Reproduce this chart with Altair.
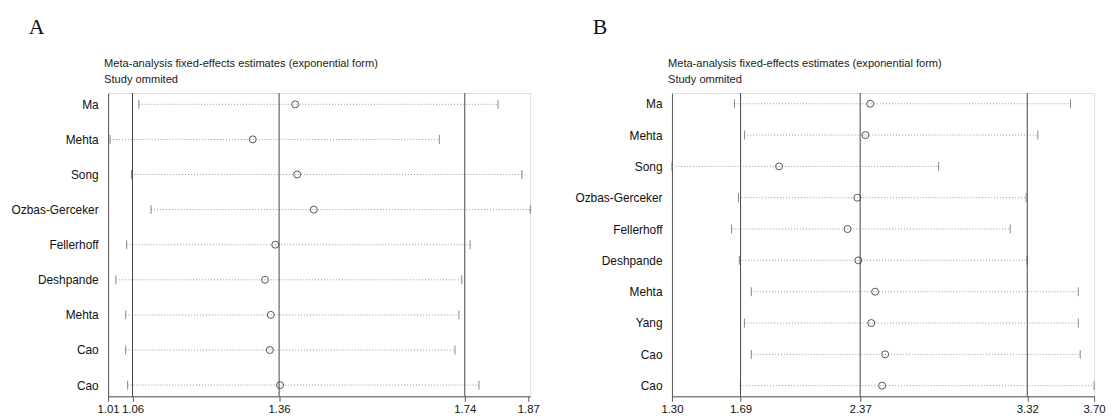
import altair as alt
import pandas as pd

# ---------------- Panel A data ----------------
studies_a = ["Ma", "Mehta", "Song", "Ozbas-Gerceker", "Fellerhoff",
             "Deshpande", "Mehta", "Cao", "Cao"]
lo_a = [1.073, 1.014, 1.058, 1.098, 1.048, 1.026, 1.046, 1.046, 1.050]
est_a = [1.393, 1.306, 1.397, 1.431, 1.352, 1.331, 1.343, 1.341, 1.362]
hi_a = [1.808, 1.688, 1.857, 1.874, 1.751, 1.734, 1.728, 1.720, 1.769]
overall_a = [1.06, 1.36, 1.74]
ticks_a = [1.01, 1.06, 1.36, 1.74, 1.87]
domain_a = [1.01, 1.874]

# ---------------- Panel B data ----------------
studies_b = ["Ma", "Mehta", "Song", "Ozbas-Gerceker", "Fellerhoff",
             "Deshpande", "Mehta", "Yang", "Cao", "Cao"]
lo_b = [1.655, 1.712, 1.300, 1.678, 1.639, 1.683, 1.751, 1.712, 1.751, 1.689]
est_b = [2.427, 2.400, 1.909, 2.354, 2.298, 2.360, 2.455, 2.433, 2.512, 2.495]
hi_b = [3.566, 3.380, 2.816, 3.313, 3.223, 3.318, 3.610, 3.610, 3.621, 3.700]
overall_b = [1.69, 2.37, 3.32]
ticks_b = [1.30, 1.69, 2.37, 3.32, 3.70]
domain_b = [1.30, 3.70]

title1 = "Meta-analysis fixed-effects estimates (exponential form)"
title2 = "Study ommited"

SANS = "Liberation Sans"
SERIF = "Liberation Serif"
W, H = 426, 306


def panel(letter, studies, lo, est, hi, overall, ticks, domain, pad):
    df = pd.DataFrame({"row": list(range(len(studies))), "study": studies,
                       "lo": lo, "est": est, "hi": hi})
    ov = pd.DataFrame({"v": overall})
    names = "[" + ",".join("'%s'" % s for s in studies) + "]"
    xs = alt.Scale(domain=domain, nice=False, zero=False)
    ys = alt.Scale(type="point", padding=pad)
    xaxis = alt.Axis(values=ticks, format=".2f", grid=False, title=None,
                     labelFont=SANS, labelFontSize=11.5, labelColor="#111",
                     domainColor="#555", tickColor="#555", tickSize=5,
                     labelPadding=2, labelFlush=False)
    yaxis = alt.Axis(title=None, grid=False, ticks=False, labelExpr=names + "[datum.value]",
                     labelFont=SANS, labelFontSize=12, labelColor="#111",
                     labelPadding=10, domainColor="#555",
                     minExtent=98, maxExtent=98)
    base = alt.Chart(df)
    ci = base.mark_rule(color="#999", strokeDash=[1, 2], strokeWidth=1).encode(
        x=alt.X("lo:Q", scale=xs, axis=xaxis),
        x2="hi:Q",
        y=alt.Y("row:O", scale=ys, axis=yaxis),
    )
    tlo = base.mark_tick(color="#555", size=9, thickness=1, orient="vertical").encode(
        x=alt.X("lo:Q", scale=xs), y=alt.Y("row:O", scale=ys))
    thi = base.mark_tick(color="#555", size=9, thickness=1, orient="vertical").encode(
        x=alt.X("hi:Q", scale=xs), y=alt.Y("row:O", scale=ys))
    pt = base.mark_point(shape="circle", filled=False, color="#555", size=50,
                         strokeWidth=1, opacity=1).encode(
        x=alt.X("est:Q", scale=xs), y=alt.Y("row:O", scale=ys))
    vr = alt.Chart(ov).mark_rule(color="#444", strokeWidth=1).encode(
        x=alt.X("v:Q", scale=xs))
    lab = pd.DataFrame({"t": [letter]})
    tl = alt.Chart(lab).mark_text(font=SERIF, fontSize=22, align="left",
                                  baseline="middle", color="#111").encode(
        text="t:N", x=alt.value(-80), y=alt.value(-67))
    l1 = alt.Chart(pd.DataFrame({"t": [title1]})).mark_text(
        font=SANS, fontSize=11.2, align="left", baseline="middle", color="#222").encode(
        text="t:N", x=alt.value(-4), y=alt.value(-29))
    l2 = alt.Chart(pd.DataFrame({"t": [title2]})).mark_text(
        font=SANS, fontSize=11.2, align="left", baseline="middle", color="#222").encode(
        text="t:N", x=alt.value(-4), y=alt.value(-13))
    return alt.layer(ci, tlo, thi, pt, vr, tl, l1, l2).properties(width=W, height=H)


A = panel("A", studies_a, lo_a, est_a, hi_a, overall_a, ticks_a, domain_a, 0.32)
B = panel("B", studies_b, lo_b, est_b, hi_b, overall_b, ticks_b, domain_b, 0.34)

chart = alt.hconcat(A, B, spacing=34).properties(
    padding={"left": 2, "top": 5, "right": 0, "bottom": 0}
).configure_view(stroke=None).configure(background="white")

chart.save("out.html", embed_options={"renderer": "svg", "actions": False})
